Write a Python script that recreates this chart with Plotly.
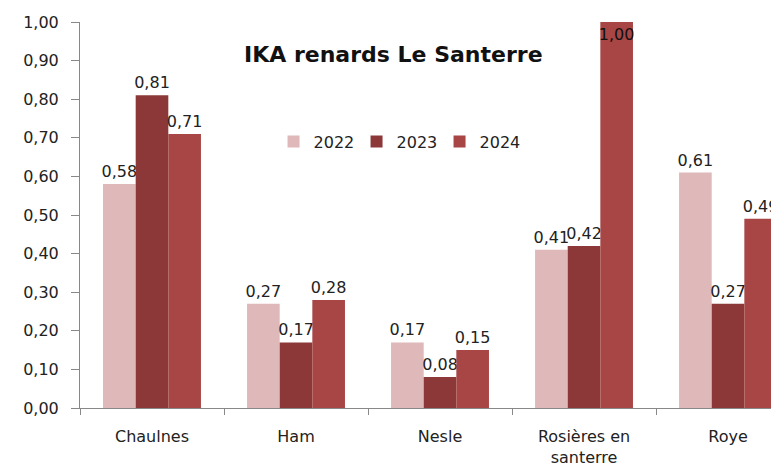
import plotly.graph_objects as go

categories = ["Chaulnes", "Ham", "Nesle", "Rosières en<br>santerre", "Roye"]
years = ["2022", "2023", "2024"]
v2022 = [0.58, 0.27, 0.17, 0.41, 0.61]
v2023 = [0.81, 0.17, 0.08, 0.42, 0.27]
v2024 = [0.71, 0.28, 0.15, 1.00, 0.49]
colors = ["#DFB8B9", "#8C3838", "#A84545"]

FONT = "DejaVu Sans"
fig = go.Figure()
for name, vals, col in zip(years, [v2022, v2023, v2024], colors):
    fig.add_trace(go.Bar(
        x=categories, y=vals, name=name, marker_color=col,
        marker_line_width=0,
        text=[f"{v:.2f}".replace(".", ",") for v in vals],
        textposition=["inside" if v >= 0.95 else "outside" for v in vals],
        textangle=0,
        insidetextanchor="end", constraintext="none", cliponaxis=False,
        textfont=dict(family=FONT, size=16, color="#222"),
        insidetextfont=dict(family=FONT, size=16, color="#111"),
        outsidetextfont=dict(family=FONT, size=16, color="#222"),
    ))

fig.update_layout(
    width=771, height=465,
    margin=dict(l=72, r=0, t=14, b=65, autoexpand=False),
    paper_bgcolor="white", plot_bgcolor="white",
    barmode="group", bargap=0.32, bargroupgap=0,
    separators=", ",
    font=dict(family=FONT, size=16, color="#222"),
    showlegend=True,
    legend=dict(orientation="h", x=0.455, y=0.69, xanchor="center", yanchor="middle",
                font=dict(family=FONT, size=16, color="#222"),
                entrywidth=38, entrywidthmode="pixels", itemwidth=30,
                bgcolor="rgba(0,0,0,0)"),
    annotations=[dict(text="<b>IKA renards Le Santerre</b>", x=0.448, y=0.915,
                      xref="paper", yref="paper", showarrow=False,
                      xanchor="center", yanchor="middle",
                      font=dict(family=FONT, size=22, color="#111"))],
)
fig.update_xaxes(range=[-0.5, 4.354], showline=True, linecolor="#888", linewidth=1,
                 ticks="outside", tickson="boundaries", ticklen=6, tickcolor="#888",
                 showgrid=False, automargin=False, ticklabelstandoff=14,
                 tickfont=dict(family=FONT, size=16, color="#222"))
fig.update_yaxes(range=[0, 1], dtick=0.1, tickformat=".2f", showline=True, linecolor="#888",
                 linewidth=1, ticks="outside", ticklen=8, tickcolor="#888", showgrid=False,
                 zeroline=False, automargin=False, ticklabelstandoff=9,
                 tickfont=dict(family=FONT, size=16, color="#222"))
fig.write_html("out.html")
